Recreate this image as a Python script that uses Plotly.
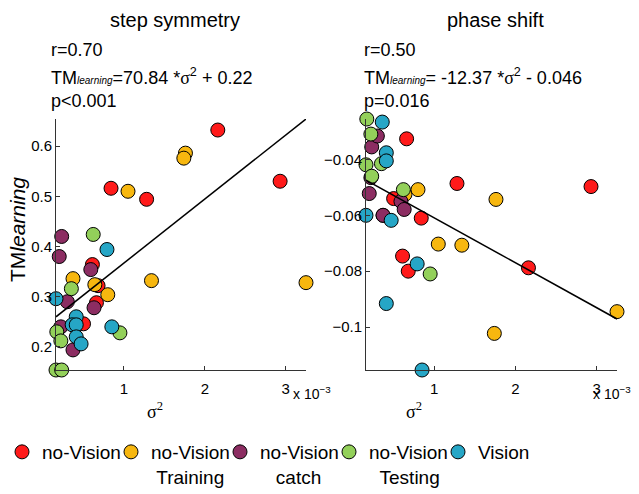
import plotly.graph_objects as go

# ---------------- data (sigma^2 in units of 1e-3) ----------------
group_names = [
    "no-Vision",
    "no-Vision<br>\u00a0Training",
    "no-Vision<br>\u00a0\u00a0\u00a0catch",
    "no-Vision<br>\u00a0\u00a0Testing",
    "Vision",
]
group_colors = ["#FF1A1A", "#F7B70F", "#8C2D62", "#93D05A", "#26A6C6"]

sigma2_noVision = [2.16, 2.93, 0.84, 1.28, 0.61, 0.68, 0.66, 0.50]
step_noVision = [0.632, 0.530, 0.516, 0.494, 0.364, 0.322, 0.288, 0.246]
phase_noVision = [-0.0788, -0.0497, -0.0610, -0.0486, -0.0746, -0.0800, -0.0326, -0.0540]

sigma2_training = [1.76, 1.74, 1.05, 1.34, 3.25, 0.37, 0.64, 0.80]
step_training = [0.586, 0.576, 0.510, 0.332, 0.328, 0.336, 0.324, 0.304]
phase_training = [-0.0543, -0.1023, -0.0703, -0.0707, -0.0945, -0.0600, -0.0525, -0.0508]

sigma2_catch = [0.23, 0.20, 0.59, 0.30, 0.63, 0.22, 0.37]
step_catch = [0.420, 0.380, 0.354, 0.290, 0.278, 0.240, 0.194]
phase_catch = [-0.0355, -0.0522, -0.0550, -0.0316, -0.0579, -0.0465, -0.0600]

sigma2_testing = [0.62, 0.35, 0.17, 0.22, 0.95, 0.16, 0.23]
step_testing = [0.424, 0.316, 0.230, 0.212, 0.228, 0.154, 0.154]
phase_testing = [-0.0508, -0.0415, -0.0255, -0.0309, -0.0810, -0.0419, -0.0460]

sigma2_vision = [0.16, 0.79, 0.85, 0.41, 0.36, 0.41, 0.41, 0.47]
step_vision = [0.296, 0.394, 0.240, 0.260, 0.244, 0.244, 0.220, 0.206]
phase_vision = [-0.0600, -0.0774, -0.1154, -0.0376, -0.0266, -0.0405, -0.0916, -0.0618]

# fitted lines as drawn (slope per 1e-3, intercept)
step_fit = (0.1275, 0.2396)
phase_fit = (-0.0161, -0.0448)

x_ticks = [1, 2, 3]
step_ticks = [0.2, 0.3, 0.4, 0.5, 0.6]
step_ticktext = ["0.2", "0.3", "0.4", "0.5", "0.6"]
phase_ticks = [-0.1, -0.08, -0.06, -0.04]
phase_ticktext = ["\u22120.1", "\u22120.08", "\u22120.06", "\u22120.04"]

all_x = [sigma2_noVision, sigma2_training, sigma2_catch, sigma2_testing, sigma2_vision]
all_step = [step_noVision, step_training, step_catch, step_testing, step_vision]
all_phase = [phase_noVision, phase_training, phase_catch, phase_testing, phase_vision]

# ---------------- figure ----------------
W, H = 639, 494
FONT = "Liberation Sans, Arial, Helvetica, sans-serif"
SERIF = "Liberation Serif, Times New Roman, serif"

fig = go.Figure()

for name, col, xs, ys, ps in zip(group_names, group_colors, all_x, all_step, all_phase):
    fig.add_trace(go.Scatter(x=xs, y=ys, mode="markers", name=name, legendgroup=name,
                             marker=dict(size=14, color=col, line=dict(color="black", width=1)),
                             cliponaxis=False, xaxis="x", yaxis="y"))
    fig.add_trace(go.Scatter(x=xs, y=ps, mode="markers", name=name, legendgroup=name, showlegend=False,
                             marker=dict(size=14, color=col, line=dict(color="black", width=1)),
                             cliponaxis=False, xaxis="x2", yaxis="y2"))

xmin = min(min(v) for v in all_x)
xmax = max(max(v) for v in all_x)
line_x = [xmin, xmax]
fig.add_trace(go.Scatter(x=line_x, y=[step_fit[1] + step_fit[0] * v for v in line_x], mode="lines",
                         line=dict(color="black", width=1.5), showlegend=False, cliponaxis=False,
                         xaxis="x", yaxis="y"))
fig.add_trace(go.Scatter(x=line_x, y=[phase_fit[1] + phase_fit[0] * v for v in line_x], mode="lines",
                         line=dict(color="black", width=1.5), showlegend=False, cliponaxis=False,
                         xaxis="x2", yaxis="y2"))

step_min = min(min(v) for v in all_step)
step_max = max(max(max(v) for v in all_step), step_fit[1] + step_fit[0] * xmax)
phase_min = min(min(v) for v in all_phase)
phase_max = max(max(v) for v in all_phase)

ydom = [(H - 370) / H, (H - 119) / H]
axis_common = dict(showgrid=False, zeroline=False, showline=True, linecolor="#333", linewidth=1,
                   ticks="inside", ticklen=4, tickcolor="#333",
                   tickfont=dict(family=FONT, size=15, color="black"))

fig.update_layout(
    width=W, height=H,
    margin=dict(l=0, r=0, t=0, b=0, autoexpand=False),
    paper_bgcolor="white", plot_bgcolor="white",
    font=dict(family=FONT, color="black"),
    xaxis=dict(domain=[56 / W, 306 / W], range=[xmin, xmax], tickvals=x_ticks, anchor="y",
               ticklabelstandoff=5, **axis_common),
    yaxis=dict(domain=ydom, range=[step_min, step_max], tickvals=step_ticks, ticktext=step_ticktext,
               anchor="x", **axis_common),
    xaxis2=dict(domain=[366 / W, 617 / W], range=[xmin, xmax], tickvals=x_ticks, anchor="y2",
                ticklabelstandoff=5, **axis_common),
    yaxis2=dict(domain=ydom, range=[phase_min, phase_max], tickvals=phase_ticks, ticktext=phase_ticktext,
                anchor="x2", **axis_common),
    legend=dict(orientation="h", x=2 / W, xanchor="left", y=(H - 433) / H, yanchor="top",
                font=dict(family=FONT, size=19, color="black"), valign="top",
                entrywidth=64, entrywidthmode="pixels", itemwidth=30, tracegroupgap=0,
                bgcolor="rgba(0,0,0,0)"),
    showlegend=True,
)

def px(x):
    return x / W

def py(y):
    return (H - y) / H

ann = []
ann.append(dict(text="step symmetry", x=px(175), y=py(20), font=dict(size=20)))
ann.append(dict(text="phase shift", x=px(495), y=py(20), font=dict(size=20)))
sig = "<span style='font-family:Liberation Serif'>\u03c3</span>"
left_lines = ["r=0.70",
              "TM<i><span style='font-size:10px'>learning</span></i>=70.84 *" + sig + "<sup>2</sup> + 0.22",
              "p&lt;0.001"]
right_lines = ["r=0.50",
               "TM<i><span style='font-size:10px'>learning</span></i>= -12.37 *" + sig + "<sup>2</sup> - 0.046",
               "p=0.016"]
for i, (lt, rt) in enumerate(zip(left_lines, right_lines)):
    yy = [50, 77, 101][i]
    ann.append(dict(text=lt, x=px(49), y=py(yy), xanchor="left", font=dict(size=18)))
    ann.append(dict(text=rt, x=px(362), y=py(yy), xanchor="left", font=dict(size=18)))
ann.append(dict(text="TM<i>learning</i>", x=px(18), y=py(230), textangle=-90, font=dict(size=21)))
ann.append(dict(text="\u03c3<sup>2</sup>", x=px(155), y=py(410), font=dict(size=18, family=SERIF)))
ann.append(dict(text="\u03c3<sup>2</sup>", x=px(414), y=py(410), font=dict(size=18, family=SERIF)))
ann.append(dict(text="x 10<sup>\u22123</sup>", x=px(291), y=py(393), xanchor="left", font=dict(size=14)))
ann.append(dict(text="x 10<sup>\u22123</sup>", x=px(591), y=py(393), xanchor="left", font=dict(size=14)))

for a in ann:
    a.setdefault("xref", "paper")
    a.setdefault("yref", "paper")
    a.setdefault("showarrow", False)
    a.setdefault("xanchor", "center")
    a.setdefault("yanchor", "middle")
    f = a.get("font", {})
    f.setdefault("family", FONT)
    f.setdefault("color", "black")
    a["font"] = f
fig.update_layout(annotations=ann)

fig.write_html("out.html", config={"displayModeBar": False},
               post_script="document.body.style.margin='0';")
